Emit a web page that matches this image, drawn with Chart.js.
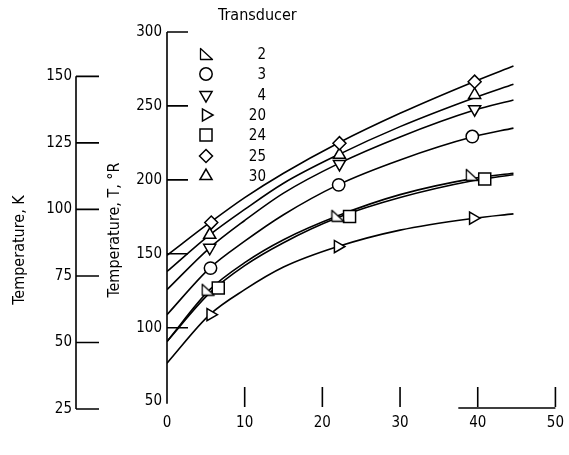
<!DOCTYPE html>
<html>
<head>
<meta charset="utf-8">
<script src="https://cdn.jsdelivr.net/npm/chart.js@4/dist/chart.umd.min.js"></script>
<style>
  html, body { margin: 0; padding: 0; background: #fff; }
  #wrap { width: 569px; height: 455px; }
</style>
</head>
<body>
<div id="wrap"><canvas id="chart" width="569" height="455"></canvas></div>
<script>
/* tick labels */
const xTicks = [0, 10, 20, 30, 40, 50];
const rTicks = [50, 100, 150, 200, 250, 300];
const kTicks = [25, 50, 75, 100, 125, 150];

/* transducers, in legend order */
const transducers = ["2", "3", "4", "20", "24", "25", "30"];

/* faired curves, T in deg R */
const curveX = [0, 5.5, 10, 15, 22, 30, 39.5, 44.6];
const curve2 = [90.7, 125.7, 144, 159.5, 175.7, 190, 201, 204.5];
const curve3 = [108.8, 140.3, 158.5, 176.4, 196.6, 213.5, 229.3, 235];
const curve4 = [125.7, 154, 172.5, 191, 210.8, 229, 247, 254];
const curve20 = [76, 108.8, 125.7, 141, 154.9, 166, 174, 177];
const curve24 = [90.7, 123.5, 142, 157.5, 174.5, 188, 199.5, 203.5];
const curve25 = [149, 171, 188, 204.5, 224.8, 245, 266.4, 277];
const curve30 = [138, 162.8, 180, 197.7, 216.9, 236, 255.4, 264.7];

/* measured points */
const pts2X = [5.3, 22, 39.3];
const pts2T = [125.7, 175.7, 203.4];
const pts3X = [5.6, 22.1, 39.3];
const pts3T = [140.3, 196.6, 229.3];
const pts4X = [5.5, 22.2, 39.6];
const pts4T = [154, 210.8, 247.8];
const pts20X = [5.6, 22, 39.4];
const pts20T = [108.8, 154.9, 174.1];
const pts24X = [6.6, 23.5, 40.9];
const pts24T = [126.8, 175.2, 200.5];
const pts25X = [5.7, 22.2, 39.6];
const pts25T = [171.1, 224.8, 266.4];
const pts30X = [5.5, 22.2, 39.6];
const pts30T = [162.8, 216.9, 257.4];

/* right-angle triangle symbol for transducer 2 (hollow) */
const rightAngle = document.createElement("canvas");
rightAngle.width = 15;
rightAngle.height = 14;
(function () {
  const g = rightAngle.getContext("2d");
  g.fillStyle = "#fff";
  g.strokeStyle = "#000";
  g.lineWidth = 1.3;
  g.lineJoin = "round";
  g.beginPath();
  g.moveTo(1.5, 1.5);
  g.lineTo(1.5, 12.5);
  g.lineTo(13.5, 12.5);
  g.closePath();
  g.fill();
  g.stroke();
})();

const markers = {
  "2": { style: rightAngle, rot: 0, r: 7 },
  "3": { style: "circle", rot: 0, r: 6.2 },
  "4": { style: "triangle", rot: 180, r: 7 },
  "20": { style: "triangle", rot: 90, r: 7 },
  "24": { style: "rect", rot: 0, r: 8.5 },
  "25": { style: "rectRot", rot: 0, r: 6.5 },
  "30": { style: "triangle", rot: 0, r: 7 },
};

const curves = { "2": curve2, "3": curve3, "4": curve4, "20": curve20, "24": curve24, "25": curve25, "30": curve30 };
const points = {
  "2": [pts2X, pts2T], "3": [pts3X, pts3T], "4": [pts4X, pts4T], "20": [pts20X, pts20T],
  "24": [pts24X, pts24T], "25": [pts25X, pts25T], "30": [pts30X, pts30T],
};

const datasets = [];
transducers.forEach((t) => {
  const m = markers[t];
  datasets.push({
    label: "Transducer " + t,
    data: points[t][0].map((x, i) => ({ x: x, y: points[t][1][i] })),
    showLine: false,
    pointStyle: m.style,
    rotation: m.rot,
    pointRadius: m.r,
    pointBackgroundColor: "#fff",
    pointBorderColor: "#000",
    pointBorderWidth: 1.5,
    order: 0,
  });
  datasets.push({
    label: "curve " + t,
    data: curveX.map((x, i) => ({ x: x, y: curves[t][i] })),
    showLine: true,
    pointRadius: 0,
    borderColor: "#000",
    borderWidth: 1.6,
    cubicInterpolationMode: "monotone",
    order: 1,
  });
});

const tickFont = { family: "'DejaVu Sans Condensed', 'DejaVu Sans', sans-serif", size: 15 };
const textFont = "16px 'DejaVu Sans Condensed', 'DejaVu Sans', sans-serif";

function drawMarker(ctx, m, x, y) {
  ctx.save();
  ctx.fillStyle = "#fff";
  ctx.strokeStyle = "#000";
  ctx.lineWidth = 1.5;
  if (typeof m.style !== "string") {
    ctx.drawImage(m.style, Math.round(x - m.style.width / 2), Math.round(y - m.style.height / 2));
    ctx.restore();
    return;
  }
  ctx.translate(x, y);
  ctx.rotate((m.rot * Math.PI) / 180);
  ctx.beginPath();
  const r = m.r;
  if (m.style === "circle") {
    ctx.arc(0, 0, r, 0, Math.PI * 2);
  } else if (m.style === "rect") {
    const s = r * Math.SQRT1_2;
    ctx.rect(-s, -s, 2 * s, 2 * s);
  } else if (m.style === "rectRot") {
    ctx.moveTo(0, -r);
    ctx.lineTo(r, 0);
    ctx.lineTo(0, r);
    ctx.lineTo(-r, 0);
  } else {
    for (let i = 0; i < 3; i++) {
      const a = (i * 2 * Math.PI) / 3;
      ctx.lineTo(Math.sin(a) * r, -Math.cos(a) * r);
    }
  }
  ctx.closePath();
  ctx.fill();
  ctx.stroke();
  ctx.restore();
}

/* inward axis ticks, axis titles and legend */
const decorations = {
  id: "decorations",
  beforeDatasetsDraw(c) {
    const ctx = c.ctx;
    const x = c.scales.x, y = c.scales.y, k = c.scales.k;
    ctx.save();
    ctx.strokeStyle = "#000";
    ctx.lineWidth = 1.6;
    ctx.beginPath();
    const x0 = x.getPixelForValue(0);
    ctx.moveTo(x0, y.getPixelForValue(300));
    ctx.lineTo(x0, y.getPixelForValue(48.5));
    rTicks.forEach((v) => {
      if (v > 50) {
        const p = y.getPixelForValue(v);
        ctx.moveTo(x0, p);
        ctx.lineTo(x0 + 21, p);
      }
    });
    const kx = k.right;
    ctx.moveTo(kx, k.getPixelForValue(150));
    ctx.lineTo(kx, k.getPixelForValue(25));
    kTicks.forEach((v) => {
      const p = k.getPixelForValue(v);
      ctx.moveTo(kx, p);
      ctx.lineTo(kx + 23, p);
    });
    const yb = c.chartArea.bottom;
    xTicks.forEach((v) => {
      if (v > 0) {
        const p = x.getPixelForValue(v);
        ctx.moveTo(p, yb - 2);
        ctx.lineTo(p, yb - 22);
      }
    });
    ctx.moveTo(x.getPixelForValue(37.5), yb - 1);
    ctx.lineTo(x.getPixelForValue(50), yb - 1);
    ctx.stroke();
    ctx.restore();
  },
  afterDraw(c) {
    const ctx = c.ctx;
    ctx.save();
    ctx.fillStyle = "#000";
    ctx.font = textFont;
    ctx.textBaseline = "middle";

    ctx.textAlign = "left";
    ctx.fillText("Transducer", 218, 16);

    ctx.textAlign = "center";
    ctx.save();
    ctx.translate(20, 250);
    ctx.rotate(-Math.PI / 2);
    ctx.fillText("Temperature, K", 0, 0);
    ctx.restore();
    ctx.save();
    ctx.translate(115, 230);
    ctx.rotate(-Math.PI / 2);
    ctx.fillText("Temperature, T, \u00B0R", 0, 0);
    ctx.restore();

    ctx.textAlign = "right";
    ctx.font = "15px 'Liberation Sans Narrow', 'DejaVu Sans Condensed', sans-serif";
    transducers.forEach((t, i) => {
      const ry = Math.round(54 + i * 20.3);
      drawMarker(ctx, markers[t], 206, ry);
      ctx.fillStyle = "#000";
      ctx.fillText(t, 266, ry + 1);
    });
    ctx.restore();
  },
};

new Chart(document.getElementById("chart"), {
  type: "scatter",
  data: { datasets: datasets },
  options: {
    responsive: false,
    animation: false,
    devicePixelRatio: 1,
    layout: { padding: { top: 32, right: 9, left: 0, bottom: 0 } },
    plugins: { legend: { display: false }, tooltip: { enabled: false } },
    scales: {
      x: {
        type: "linear",
        min: 0,
        max: 50,
        afterBuildTicks: (s) => { s.ticks = xTicks.map((v) => ({ value: v })); },
        afterFit: (s) => { s.height = 46; },
        grid: { display: false, drawTicks: false },
        border: { display: false },
        ticks: { padding: 5, color: "#000", font: tickFont, maxRotation: 0 },
      },
      y: {
        type: "linear",
        position: "left",
        weight: 0,
        min: 45,
        max: 300,
        afterBuildTicks: (s) => { s.ticks = rTicks.map((v) => ({ value: v })); },
        afterFit: (s) => { s.width = 91; },
        grid: { display: false, drawTicks: false },
        border: { display: false },
        ticks: { padding: 5, color: "#000", font: tickFont },
      },
      k: {
        type: "linear",
        position: "left",
        weight: 1,
        min: 25,
        max: 300 / 1.8,
        afterBuildTicks: (s) => { s.ticks = kTicks.map((v) => ({ value: v })); },
        afterFit: (s) => { s.width = 76; },
        grid: { display: false, drawTicks: false },
        border: { display: false },
        ticks: { padding: 4, color: "#000", font: tickFont },
      },
    },
  },
  plugins: [decorations],
});
</script>
</body>
</html>
